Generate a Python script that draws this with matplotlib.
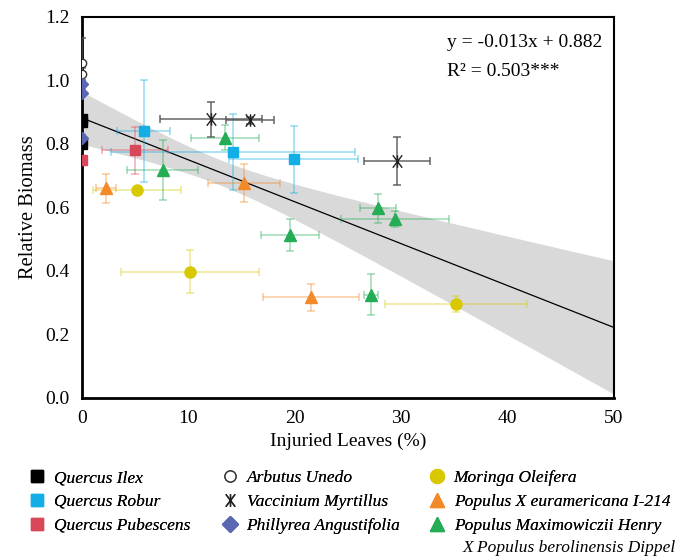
import numpy as np
import matplotlib.pyplot as plt
from matplotlib.colors import to_rgba
from matplotlib.lines import Line2D
from matplotlib.path import Path

plt.rcParams['font.family'] = ['Liberation Serif', 'DejaVu Serif']

# species data: x = injured leaves (%), y = relative biomass
ilex_x = [0, 0, 0]
ilex_y = [0.88, 0.87, 0.80]
ilex_xerr = [0, 0, 0]
ilex_yerr = [0.01, 0.01, 0.01]

robur_x = [5.8, 14.2, 19.9]
robur_y = [0.84, 0.776, 0.752]
robur_xerr = [2.5, 11.5, 6.05]
robur_yerr = [0.16, 0.12, 0.105]

pub_x = [0, 5.0]
pub_y = [0.75, 0.78]
pub_xerr = [0, 3.1]
pub_yerr = [0.01, 0.075]

arb_x = [0, 0]
arb_y = [1.055, 1.02]
arb_xerr = [0, 0]
arb_yerr = [0.08, 0.02]

vac_x = [12.1, 15.8, 29.6]
vac_y = [0.878, 0.874, 0.746]
vac_xerr = [4.8, 2.25, 3.1]
vac_yerr = [0.055, 0.01, 0.076]

phil_x = [0, 0, 0]
phil_y = [0.99, 0.96, 0.82]
phil_xerr = [0, 0, 0]
phil_yerr = [0.01, 0.01, 0.01]

mor_x = [5.2, 10.15, 35.15]
mor_y = [0.655, 0.398, 0.296]
mor_xerr = [4.15, 6.47, 6.7]
mor_yerr = [0.01, 0.068, 0.025]

eur_x = [2.26, 15.2, 21.5]
eur_y = [0.66, 0.676, 0.317]
eur_xerr = [0.9, 3.37, 4.5]
eur_yerr = [0.047, 0.06, 0.042]

max_x = [13.4, 7.6, 27.8, 29.4, 19.55, 27.16]
max_y = [0.82, 0.718, 0.597, 0.563, 0.513, 0.325]
max_xerr = [3.2, 3.33, 1.7, 5.1, 2.75, 0.7]
max_yerr = [0.04, 0.095, 0.047, 0.025, 0.05, 0.065]

# regression and confidence band
slope = -0.0132
intercept = 0.882
band_a = 0.0016
band_b = 3.1e-5
band_m = 13.0

# Ж-like marker: vertical bar plus a cross
zhe = Path([(0, -1), (0, 1), (-0.75, -1), (0.75, 1), (-0.75, 1), (0.75, -1)],
           [Path.MOVETO, Path.LINETO, Path.MOVETO, Path.LINETO, Path.MOVETO, Path.LINETO])

fig = plt.figure(figsize=(6.86, 5.57), dpi=100)
ax = fig.add_axes([0.1195, 0.2855, 0.7755, 0.684])

xs = np.linspace(0, 50, 200)
fit = intercept + slope * xs
hw = np.sqrt(band_a + band_b * (xs - band_m) ** 2)
ax.fill_between(xs, fit - hw, fit + hw, color='#d9d9d9', lw=0, zorder=1)
ax.plot(xs, fit, color='black', lw=0.9, zorder=2)

series = [
    (ilex_x, ilex_y, ilex_xerr, ilex_yerr, 's', '#000000', '#000000', 'Quercus Ilex', 7),
    (robur_x, robur_y, robur_xerr, robur_yerr, 's', '#14aee6', '#14aee6', 'Quercus Robur', 7),
    (pub_x, pub_y, pub_xerr, pub_yerr, 's', '#d9485a', '#d9485a', 'Quercus Pubescens', 7),
    (arb_x, arb_y, arb_xerr, arb_yerr, 'o', 'white', '#333333', 'Arbutus Unedo', 6),
    (vac_x, vac_y, vac_xerr, vac_yerr, zhe, '#222222', '#222222', 'Vaccinium Myrtillus', 9),
    (phil_x, phil_y, phil_xerr, phil_yerr, 'D', '#5a68b4', '#5a68b4', 'Phillyrea Angustifolia', 6),
    (mor_x, mor_y, mor_xerr, mor_yerr, 'o', '#d8c800', '#d8c800', 'Moringa Oleifera', 8),
    (eur_x, eur_y, eur_xerr, eur_yerr, '^', '#f28a2a', '#f28a2a', 'Populus X euramericana I-214', 8),
    (max_x, max_y, max_xerr, max_yerr, '^', '#24ad55', '#24ad55', 'Populus Maximowiczii Henry', 8),
]

handles = []
for x, y, xe, ye, mk, fc, ec, name, ms in series:
    if ec in ('#222222', '#333333'):
        bar_col = to_rgba('#555555', 0.9)
    else:
        bar_col = to_rgba(ec, 0.45)
    ax.errorbar(x, y, xerr=xe, yerr=ye, fmt='none', ecolor=bar_col, elinewidth=1.1,
                capsize=3, capthick=1.1, zorder=3)
    ax.plot(x, y, ls='none', marker=mk, ms=ms, mfc=fc, mec=ec, mew=1.0, zorder=4)
    leg_ms = 9 if mk is zhe else ms + 2
    handles.append(Line2D([], [], ls='none', marker=mk, ms=leg_ms,
                          mfc=fc, mec=ec, mew=1.0, label=name))

ax.set_xlim(0, 50)
ax.set_ylim(0, 1.2)
ax.set_xticks(np.arange(0, 51, 10))
ax.set_yticks(np.arange(0, 1.21, 0.2))
ax.yaxis.set_major_formatter(plt.FormatStrFormatter('%.1f'))
ax.tick_params(length=0, labelsize=14, pad=9)
for s in ['left', 'bottom']:
    ax.spines[s].set_linewidth(2)
for s in ['top', 'right']:
    ax.spines[s].set_linewidth(1.5)

ax.set_xlabel('Injuried Leaves (%)', fontsize=14, labelpad=4)
ax.set_ylabel('Relative Biomass', fontsize=14.8, labelpad=5)

ax.text(0.686, 0.932, 'y = -0.013x + 0.882', transform=ax.transAxes, fontsize=14, va='center')
ax.text(0.686, 0.856, 'R² = 0.503***', transform=ax.transAxes, fontsize=14, va='center')

# legend: three columns placed by hand
col_x = [0.029, 0.310, 0.612]
for i, cx in enumerate(col_x):
    leg = fig.legend(handles=handles[i * 3:(i + 1) * 3], loc='upper left',
                     bbox_to_anchor=(cx, 0.172), frameon=False, borderpad=0,
                     handlelength=1.0, handletextpad=0.45, labelspacing=0.45,
                     prop={'style': 'italic', 'size': 12.5})
    fig.add_artist(leg)

fig.text(0.985, 0.016, 'X Populus berolinensis Dippel', ha='right', va='center',
         fontsize=12.5, style='italic')

fig.savefig('out.png', dpi=100)
